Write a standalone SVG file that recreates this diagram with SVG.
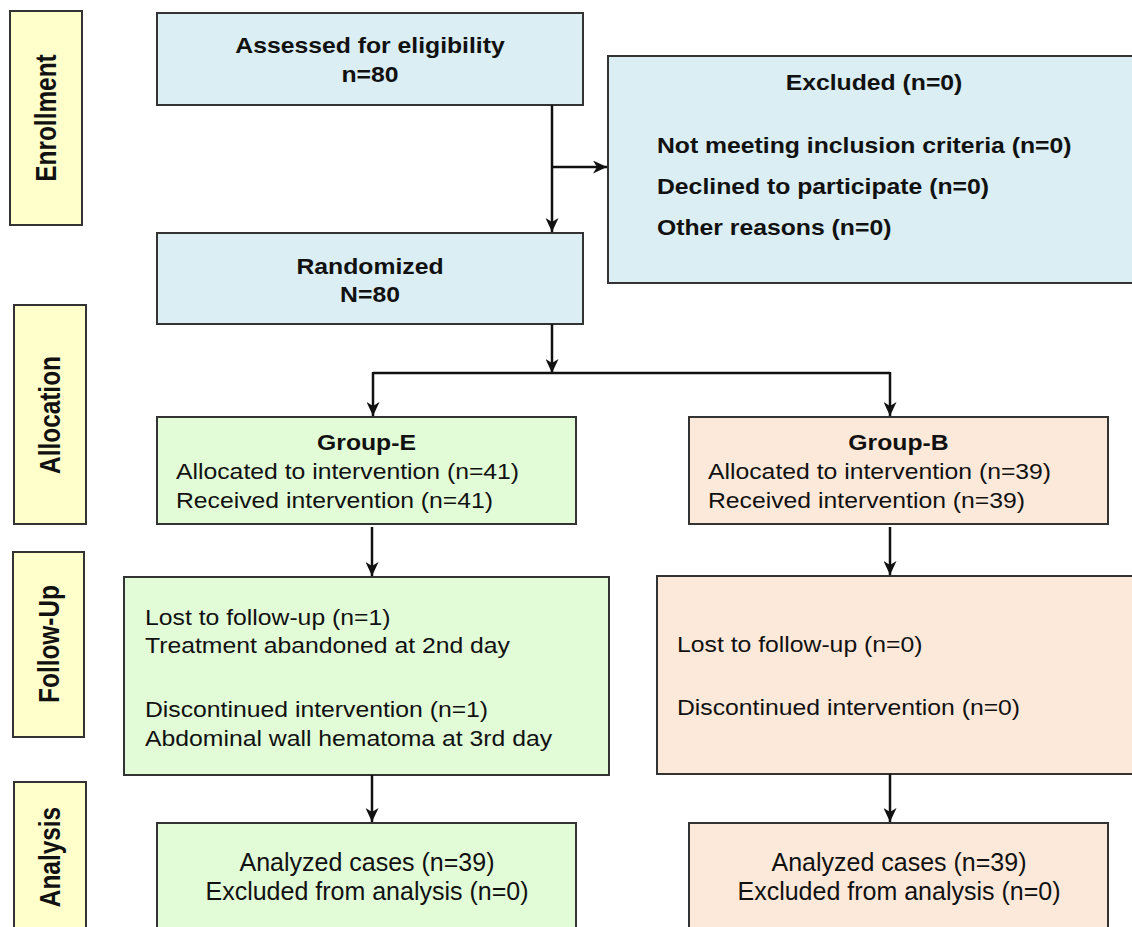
<svg xmlns="http://www.w3.org/2000/svg" width="1132" height="927" viewBox="0 0 1132 927">
<defs>
<style>
.lab{fill:#ffffcc;stroke:#333;stroke-width:2}
.blue{fill:#daeef3;stroke:#333;stroke-width:2}
.green{fill:#e2fcd8;stroke:#333;stroke-width:2}
.peach{fill:#fde9d9;stroke:#333;stroke-width:2}
text{font-family:"Liberation Sans",Arial,Helvetica,sans-serif;fill:#111}
.b{font-weight:bold;font-size:22.5px}
.r{font-size:22.5px}
.c{text-anchor:middle}
.lt{font-weight:bold;font-size:24.4px;text-anchor:middle}
.a{font-size:25px;text-anchor:middle}
.conn{fill:none;stroke:#111;stroke-width:2.5}
</style>
<marker id="ah" markerUnits="userSpaceOnUse" markerWidth="14" markerHeight="13" refX="14" refY="6.5" orient="auto">
<path d="M0,0 L14,6.5 L0,13 L4,6.5 Z" fill="#111"/>
</marker>
</defs>
<rect width="1132" height="927" fill="#ffffff"/>

<g id="lbl-enrollment">
<rect class="lab" x="10" y="11" width="72" height="214"/>
<text class="lt" transform="translate(56,118) scale(1.18,1) rotate(-90)">Enrollment</text>
</g>
<g id="lbl-allocation">
<rect class="lab" x="14" y="305" width="72" height="219"/>
<text class="lt" transform="translate(60,415) scale(1.18,1) rotate(-90)">Allocation</text>
</g>
<g id="lbl-followup">
<rect class="lab" x="13" y="552" width="71" height="185"/>
<text class="lt" transform="translate(59,644) scale(1.18,1) rotate(-90)">Follow-Up</text>
</g>
<g id="lbl-analysis">
<rect class="lab" x="14" y="782" width="72" height="160"/>
<text class="lt" transform="translate(60,857) scale(1.18,1) rotate(-90)">Analysis</text>
</g>

<g id="assessed">
<rect class="blue" x="157" y="13" width="426" height="92"/>
<g transform="translate(370,0) scale(1.1,1)">
<text class="b c" x="0" y="53">Assessed for eligibility</text>
<text class="b c" x="0" y="82">n=80</text>
</g>
</g>

<g id="excluded">
<rect class="blue" x="608" y="56" width="540" height="227"/>
<g transform="translate(874,0) scale(1.1,1)">
<text class="b c" x="0" y="90">Excluded (n=0)</text>
</g>
<g transform="translate(657,0) scale(1.1,1)">
<text class="b" x="0" y="153">Not meeting inclusion criteria (n=0)</text>
<text class="b" x="0" y="194">Declined to participate (n=0)</text>
<text class="b" x="0" y="235">Other reasons (n=0)</text>
</g>
</g>

<g id="randomized">
<rect class="blue" x="157" y="233" width="426" height="91"/>
<g transform="translate(370,0) scale(1.1,1)">
<text class="b c" x="0" y="274">Randomized</text>
<text class="b c" x="0" y="302">N=80</text>
</g>
</g>

<g id="group-e">
<rect class="green" x="157" y="417" width="419" height="107"/>
<g transform="translate(366.5,0) scale(1.1,1)">
<text class="b c" x="0" y="450">Group-E</text>
</g>
<g transform="translate(176,0) scale(1.1,1)">
<text class="r" x="0" y="479">Allocated to intervention (n=41)</text>
<text class="r" x="0" y="508">Received intervention (n=41)</text>
</g>
</g>

<g id="group-b">
<rect class="peach" x="689" y="417" width="419" height="107"/>
<g transform="translate(898.5,0) scale(1.1,1)">
<text class="b c" x="0" y="450">Group-B</text>
</g>
<g transform="translate(708,0) scale(1.1,1)">
<text class="r" x="0" y="479">Allocated to intervention (n=39)</text>
<text class="r" x="0" y="508">Received intervention (n=39)</text>
</g>
</g>

<g id="followup-e">
<rect class="green" x="124" y="577" width="485" height="198"/>
<g transform="translate(145,0) scale(1.1,1)">
<text class="r" x="0" y="625">Lost to follow-up (n=1)</text>
<text class="r" x="0" y="653">Treatment abandoned at 2nd day</text>
<text class="r" x="0" y="717">Discontinued intervention (n=1)</text>
<text class="r" x="0" y="746">Abdominal wall hematoma at 3rd day</text>
</g>
</g>

<g id="followup-b">
<rect class="peach" x="657" y="576" width="490" height="198"/>
<g transform="translate(677,0) scale(1.1,1)">
<text class="r" x="0" y="652">Lost to follow-up (n=0)</text>
<text class="r" x="0" y="715">Discontinued intervention (n=0)</text>
</g>
</g>

<g id="analysis-e">
<rect class="green" x="157" y="823" width="419" height="120"/>
<text class="a" x="367" y="871">Analyzed cases (n=39)</text>
<text class="a" x="367" y="900">Excluded from analysis (n=0)</text>
</g>

<g id="analysis-b">
<rect class="peach" x="689" y="823" width="419" height="120"/>
<text class="a" x="899" y="871">Analyzed cases (n=39)</text>
<text class="a" x="899" y="900">Excluded from analysis (n=0)</text>
</g>

<g id="connectors">
<path class="conn" d="M552,105 V232" marker-end="url(#ah)"/>
<path class="conn" d="M552,167 H607" marker-end="url(#ah)"/>
<path class="conn" d="M552,324 V373" marker-end="url(#ah)"/>
<path class="conn" d="M373,373 H890"/>
<path class="conn" d="M373,372 V416" marker-end="url(#ah)"/>
<path class="conn" d="M890,372 V416" marker-end="url(#ah)"/>
<path class="conn" d="M372,527 V576" marker-end="url(#ah)"/>
<path class="conn" d="M890,527 V575" marker-end="url(#ah)"/>
<path class="conn" d="M372,775 V822" marker-end="url(#ah)"/>
<path class="conn" d="M890,774 V822" marker-end="url(#ah)"/>
</g>
</svg>
